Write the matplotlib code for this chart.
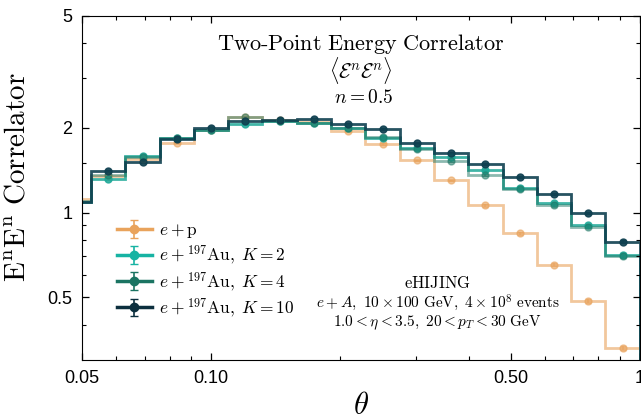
import numpy as np
import matplotlib
matplotlib.use("Agg")
import matplotlib.pyplot as plt
from matplotlib.ticker import FixedLocator, NullFormatter

plt.rcParams['mathtext.fontset'] = 'cm'
plt.rcParams['font.family'] = ['Liberation Sans', 'DejaVu Sans']
plt.rcParams['axes.unicode_minus'] = False

# bin edges in theta (log spaced)
theta_edges = [0.0437, 0.0525, 0.0631, 0.0759, 0.0912, 0.1096, 0.1318, 0.1585, 0.1905,
               0.2291, 0.2754, 0.3311, 0.3981, 0.4786, 0.5754, 0.6918, 0.8318, 1.0]

ep = [1.12, 1.35, 1.55, 1.77, 1.97, 2.18, 2.13, 2.10, 1.94, 1.75, 1.53, 1.30, 1.06,
      0.845, 0.654, 0.486, 0.331]
eau_k2 = [1.09, 1.32, 1.59, 1.84, 1.97, 2.06, 2.12, 2.08, 1.99, 1.84, 1.70, 1.57, 1.41,
          1.22, 1.08, 0.90, 0.707]
eau_k4 = [1.10, 1.36, 1.57, 1.84, 1.97, 2.18, 2.12, 2.07, 2.00, 1.86, 1.68, 1.52, 1.36,
          1.21, 1.06, 0.89, 0.70]
eau_k10 = [1.09, 1.40, 1.51, 1.82, 2.00, 2.12, 2.13, 2.15, 2.06, 1.98, 1.76, 1.63, 1.49,
           1.34, 1.165, 0.997, 0.787]

err_ep = [0.01, 0.01, 0.01, 0.01, 0.01, 0.01, 0.01, 0.01, 0.01, 0.01, 0.01, 0.01, 0.01,
          0.01, 0.01, 0.008, 0.006]
err_au = [0.01, 0.01, 0.01, 0.01, 0.01, 0.01, 0.01, 0.01, 0.01, 0.01, 0.01, 0.01, 0.01,
          0.01, 0.01, 0.01, 0.01]

labels = [r'$e+\mathrm{p}$',
          r'$e+{}^{197}\mathrm{Au},\;K=2$',
          r'$e+{}^{197}\mathrm{Au},\;K=4$',
          r'$e+{}^{197}\mathrm{Au},\;K=10$']
colors = ['#E9A35C', '#17B3A3', '#1B7462', '#0C2F3E']
line_colors = ['#E9A35C', '#1FA898', '#1B7462', '#0F4050']
alphas = [0.6, 0.85, 0.5, 0.9]

edges = np.array(theta_edges)
centers = np.sqrt(edges[:-1] * edges[1:])

fig, ax = plt.subplots(figsize=(6.41, 4.2), dpi=100)
fig.subplots_adjust(left=0.128, right=0.998, bottom=0.143, top=0.963)

series = [(ep, err_ep), (eau_k2, err_au), (eau_k4, err_au), (eau_k10, err_au)]
for (vals, errs), c, lc, a, lab in zip(series, colors, line_colors, alphas, labels):
    ax.stairs(vals, edges, color=lc, lw=2, alpha=a)
    ax.errorbar(centers, vals, yerr=errs, fmt='o', ms=5, color=lc, alpha=a,
                capsize=2, elinewidth=1.2)
    # legend proxy
    ax.errorbar([np.nan], [np.nan], yerr=[np.nan], fmt='-o', ms=6, lw=2.5,
                color=c, capsize=3, elinewidth=1.2, label=lab)

ax.set_xscale('log')
ax.set_yscale('log')
ax.set_xlim(0.05, 1)
ax.set_ylim(0.3, 5)

ax.xaxis.set_major_locator(FixedLocator([0.05, 0.1, 0.5, 1]))
ax.set_xticklabels(['0.05', '0.10', '0.50', '1'])
ax.xaxis.set_minor_locator(FixedLocator([0.06, 0.07, 0.08, 0.09, 0.2, 0.3, 0.4,
                                         0.6, 0.7, 0.8, 0.9]))
ax.xaxis.set_minor_formatter(NullFormatter())
ax.yaxis.set_major_locator(FixedLocator([0.5, 1, 2, 5]))
ax.set_yticklabels(['0.5', '1', '2', '5'])
ax.yaxis.set_minor_locator(FixedLocator([0.4, 0.6, 0.7, 0.8, 0.9, 1.5, 3, 4]))
ax.yaxis.set_minor_formatter(NullFormatter())

ax.tick_params(which='both', direction='in', top=True, right=True, labelsize=13, pad=7)
ax.tick_params(which='major', length=5, width=0.9)
ax.tick_params(which='minor', length=3, width=0.8)

ax.set_xlabel(r'$\theta$', fontsize=22, labelpad=3)
ax.set_ylabel(r'$\mathrm{E^nE^n\ Correlator}$', fontsize=21, labelpad=8)
ax.yaxis.set_label_coords(-0.09, 0.53)

ax.text(0.5, 0.918, r'$\mathrm{Two\text{-}Point\ Energy\ Correlator}$', transform=ax.transAxes,
        ha='center', va='center', fontsize=16)
ax.text(0.5, 0.840, r'$\langle\mathcal{E}^n\mathcal{E}^n\rangle$', transform=ax.transAxes,
        ha='center', va='center', fontsize=15)
ax.text(0.505, 0.762, r'$n=0.5$', transform=ax.transAxes,
        ha='center', va='center', fontsize=14)

ax.text(0.638, 0.224, r'$\mathrm{eHIJING}$', transform=ax.transAxes,
        ha='center', va='center', fontsize=12)
ax.text(0.638, 0.166, r'$e+A,\ 10\times100\ \mathrm{GeV},\ 4\times10^8\ \mathrm{events}$',
        transform=ax.transAxes, ha='center', va='center', fontsize=11)
ax.text(0.638, 0.108, r'$1.0<\eta<3.5,\ 20<p_T<30\ \mathrm{GeV}$',
        transform=ax.transAxes, ha='center', va='center', fontsize=11)

leg = ax.legend(loc='upper left', bbox_to_anchor=(0.05, 0.42), frameon=False,
                fontsize=12.5, handlelength=2.0, handletextpad=0.4, labelspacing=0.2,
                borderaxespad=0)

fig.savefig('out.png', dpi=100)
